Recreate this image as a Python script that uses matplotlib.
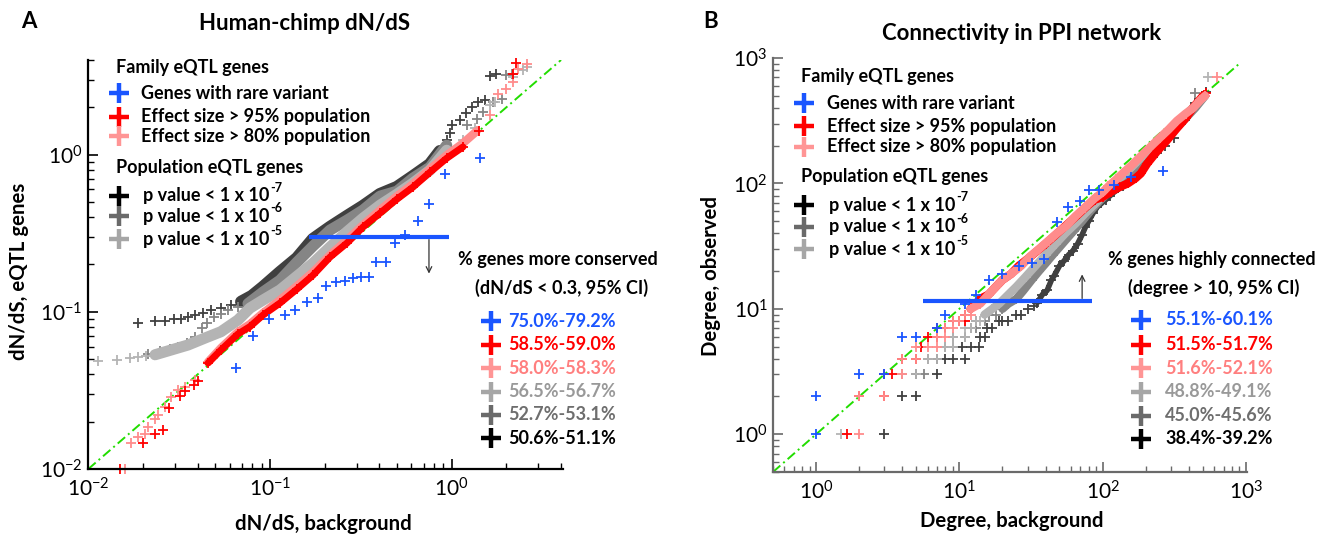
import numpy as np
import matplotlib
matplotlib.use('Agg')
import matplotlib.pyplot as plt
from matplotlib.lines import Line2D
from matplotlib.ticker import LogLocator, NullFormatter

# ---------------- panel A: human-chimp dN/dS (QQ) ----------------
a_blue_x = [0.065, 0.081, 0.099, 0.121, 0.138, 0.160, 0.183, 0.203, 0.232, 0.258, 0.286,
            0.316, 0.349, 0.385, 0.435, 0.487, 0.556, 0.652, 0.746, 0.918, 1.43]
a_blue_y = [0.044, 0.070, 0.090, 0.096, 0.102, 0.115, 0.122, 0.146, 0.155, 0.157, 0.165,
            0.166, 0.166, 0.206, 0.207, 0.273, 0.310, 0.380, 0.488, 0.753, 0.958]

a_red_lo_x = [0.0149, 0.0200, 0.0234, 0.0258, 0.0278, 0.0318, 0.0342, 0.0382, 0.0401]
a_red_lo_y = [0.0100, 0.0146, 0.0168, 0.0177, 0.0243, 0.0291, 0.0315, 0.0342, 0.0364]
a_red_band_x = [0.0456, 0.0537, 0.0666, 0.0776, 0.0915, 0.1135, 0.1408, 0.1725, 0.2139, 0.2652,
                0.3247, 0.4032, 0.500, 0.612, 0.759, 0.939, 1.154]
a_red_band_y = [0.0472, 0.0571, 0.0722, 0.0805, 0.0953, 0.1136, 0.1395, 0.1710, 0.2227, 0.2736,
                0.3456, 0.424, 0.521, 0.621, 0.772, 0.948, 1.119]
a_red_hi_x = [1.413, 2.18, 2.258]
a_red_hi_y = [1.419, 3.28, 3.85]

a_pink_lo_x = [0.0159, 0.0171, 0.0187, 0.0204, 0.0213, 0.0232, 0.0242, 0.0265, 0.0286, 0.0312, 0.0339, 0.0385]
a_pink_lo_y = [0.0100, 0.0146, 0.0159, 0.0168, 0.0186, 0.0207, 0.0220, 0.0248, 0.0288, 0.0317, 0.0332, 0.0368]
a_pink_band_x = [0.0456, 0.0537, 0.0666, 0.0776, 0.0915, 0.1135, 0.1408, 0.1725, 0.2139, 0.2652,
                 0.3247, 0.4032, 0.500, 0.612, 0.759, 0.939, 1.154, 1.373]
a_pink_band_y = [0.0479, 0.0588, 0.0743, 0.0835, 0.0981, 0.1187, 0.1458, 0.1786, 0.2292, 0.2856,
                 0.356, 0.443, 0.544, 0.649, 0.807, 0.991, 1.182, 1.409]
a_pink_hi_x = [1.626, 1.805, 2.0, 2.18, 2.326, 2.587]
a_pink_hi_y = [1.780, 2.447, 2.63, 2.90, 3.53, 3.79]

a_p5_lo_x = [0.0113, 0.0144, 0.0170, 0.0187, 0.0208]
a_p5_lo_y = [0.0486, 0.0490, 0.0507, 0.0516, 0.0524]
a_p5_band_x = [0.0233, 0.0285, 0.0354, 0.0439, 0.0537, 0.0666, 0.0776, 0.0915, 0.1135, 0.1408,
               0.1725, 0.2139, 0.2652, 0.3247, 0.4032, 0.500, 0.612, 0.759, 0.939]
a_p5_band_y = [0.0533, 0.0571, 0.0615, 0.0681, 0.0747, 0.0886, 0.1056, 0.1187, 0.1375, 0.1685,
               0.2039, 0.2580, 0.3227, 0.3937, 0.4766, 0.560, 0.658, 0.796, 1.066]
a_p5_hi_x = [1.154, 1.343, 1.626, 1.732, 2.175, 2.48, 2.587]
a_p5_hi_y = [1.235, 1.471, 2.06, 2.163, 3.13, 3.44, 3.61]

a_p6_lo_x = [0.0213, 0.0248, 0.0282, 0.0312, 0.0349, 0.0387, 0.0422, 0.0450, 0.0492, 0.0537,
             0.0587, 0.0666, 0.0757]
a_p6_lo_y = [0.0542, 0.0567, 0.0579, 0.0597, 0.0634, 0.0691, 0.0786, 0.0847, 0.0925, 0.0974,
             0.1025, 0.1072, 0.1128]
a_p6_band_x = [0.0757, 0.0915, 0.1135, 0.1408, 0.1725, 0.2139, 0.2652, 0.3247, 0.4032, 0.500,
               0.612, 0.759, 0.939]
a_p6_band_y = [0.1128, 0.1335, 0.1588, 0.2069, 0.2618, 0.3308, 0.3826, 0.443, 0.544, 0.585,
               0.708, 0.831, 1.148]
a_p6_hi_x = [1.209, 1.373, 1.493, 1.695, 1.884, 2.0, 2.139]
a_p6_hi_y = [1.538, 1.694, 1.867, 2.163, 2.272, 3.2, 3.28]

a_p7_lo_x = [0.0187, 0.0232, 0.0263, 0.0296, 0.0325, 0.0354, 0.0385, 0.0428, 0.0475, 0.0540,
             0.0612, 0.0695]
a_p7_lo_y = [0.0851, 0.0868, 0.0868, 0.0894, 0.0902, 0.0921, 0.0953, 0.0985, 0.1025, 0.1051,
             0.1103, 0.1157]
a_p7_band_x = [0.0695, 0.0795, 0.0915, 0.1135, 0.1408, 0.1725, 0.2139, 0.2652, 0.3247, 0.4032,
               0.500, 0.612, 0.759, 0.862]
a_p7_band_y = [0.1157, 0.1259, 0.1437, 0.1786, 0.2195, 0.290, 0.3456, 0.4057, 0.470, 0.560,
               0.621, 0.728, 0.868, 1.051]
a_p7_hi_x = [0.939, 0.979, 1.0, 1.111, 1.199, 1.288, 1.400, 1.525, 1.626, 1.753]
a_p7_hi_y = [1.235, 1.382, 1.538, 1.653, 1.851, 2.01, 2.163, 2.214, 3.16, 3.28]

a_pct = ['75.0%-79.2%', '58.5%-59.0%', '58.0%-58.3%', '56.5%-56.7%', '52.7%-53.1%', '50.6%-51.1%']

# ---------------- panel B: PPI degree (QQ) ----------------
b_blue_x = [1, 1, 2, 3, 4, 5, 7, 8, 11, 13, 16, 20, 26, 32, 39, 48, 57, 70, 80, 95, 120, 158, 265]
b_blue_y = [1, 2, 3, 3, 6, 6, 7, 9, 11, 13, 17, 19, 22, 23, 25, 49, 65, 72, 88, 88, 97, 112, 125]

b_red_lo_x = [1.64, 2, 3, 3, 3.4, 4, 5, 5.4, 6, 7, 7, 8, 9, 10, 11, 11]
b_red_lo_y = [1, 2, 2, 3, 3, 4, 4, 5, 6, 6, 7, 7, 8, 8, 8, 9]
b_red_band_x = [12, 13, 14, 16, 18, 20, 23, 26, 30, 35, 40, 46, 53, 60, 68, 78, 88, 100, 115,
                130, 150, 170, 185, 205, 240, 282, 330, 380, 433, 508]
b_red_band_y = [10, 11, 12, 13, 15, 17, 19, 22, 25, 29, 33, 38, 44, 50, 57, 66, 74, 78, 86,
                93, 100, 110, 120, 144, 180, 221, 275, 330, 408, 506]
b_red_hi_x = [527]
b_red_hi_y = [527]

b_pink_lo_x = [2, 2, 3, 4, 4, 5, 5, 6, 7, 7, 8, 8, 9, 9, 10, 11, 12]
b_pink_lo_y = [1, 2, 2, 3, 4, 4, 5, 5, 5, 6, 6, 7, 7, 8, 8, 9, 9]
b_pink_band_x = [12, 14, 16, 18, 20, 23, 27, 31, 36, 42, 48, 56, 65, 75, 88, 100, 110, 125, 140,
                 160, 185, 215, 250, 290, 330, 380, 430, 480, 520]
b_pink_band_y = [10, 11, 13, 15, 17, 19, 22, 26, 30, 35, 40, 46, 55, 64, 76, 85, 95, 108, 122,
                 140, 165, 195, 230, 270, 315, 360, 400, 460, 500]
b_pink_hi_x = [634]
b_pink_hi_y = [701]

b_p5_lo_x = [1.5, 4, 5, 6, 7, 8, 9, 9, 11, 11, 12, 13, 14]
b_p5_lo_y = [1, 3, 3, 4, 4, 5, 5, 6, 6, 7, 7, 8, 8]
b_p5_band_x = [15, 17, 19, 22, 25, 29, 34, 40, 47, 55, 65, 76, 90, 105, 120, 140, 165, 195, 230,
               270, 320, 380, 444, 500]
b_p5_band_y = [9, 10, 11, 13, 15, 18, 22, 27, 33, 40, 48, 58, 70, 84, 98, 117, 140, 170, 205,
               245, 295, 350, 420, 480]
b_p5_hi_x = [545]
b_p5_hi_y = [701]

b_p6_lo_x = [5.7, 6, 8, 9, 9, 11, 12, 13, 13, 15, 16, 18]
b_p6_lo_y = [3, 4, 5, 5, 6, 6, 7, 7, 8, 8, 9, 9]
b_p6_band_x = [20, 22, 25, 28, 32, 36, 40, 45, 50, 56, 63, 72, 82, 95, 110, 130, 160, 200, 240,
               300, 360, 444, 520]
b_p6_band_y = [10, 11, 12, 14, 17, 20, 23, 27, 31, 36, 42, 50, 60, 72, 85, 100, 125, 160, 195,
               250, 310, 400, 500]
b_p6_hi_x = [444]
b_p6_hi_y = [527]

b_p7_lo_x = [3, 4, 5, 5, 7, 7, 8, 9, 11, 10.5, 12, 13.7, 14, 15, 15.7, 17, 19, 20, 22, 25, 27, 30, 33]
b_p7_lo_y = [1, 2, 2, 3, 3, 4, 4, 4, 4, 5, 5, 5, 6, 6, 7, 7, 8, 8, 8, 9, 9, 10, 10.5]
b_p7_band_x = [35, 38, 41, 44, 46, 50, 54, 58, 62, 67, 72, 76, 80, 86, 92, 105, 120, 138, 160, 185, 208]
b_p7_band_y = [11.2, 13, 14, 17, 18.4, 22, 24.2, 27, 29, 33, 39, 45, 50, 58, 65, 74, 85, 95, 115, 135, 158]
b_p7_hi_x = [240, 275, 315, 374, 445, 527]
b_p7_hi_y = [175, 198, 232, 318, 436, 535]

b_pct = ['55.1%-60.1%', '51.5%-51.7%', '51.6%-52.1%', '48.8%-49.1%', '45.0%-45.6%', '38.4%-39.2%']

pvals = ['-7', '-6', '-5']

# colours
c_blue, c_red, c_pink = '#1a55ff', '#ff0000', '#ff8c8c'
c_p5, c_p6, c_p7 = '#b4b4b4', '#858585', '#404040'
leg_marks = [c_blue, c_red, '#ff9595', '#a6a6a6', '#6a6a6a', '#000000']
pct_colors = [c_blue, c_red, '#ff7f7f', '#999999', '#6e6e6e', '#000000']

plt.rcParams['font.family'] = ['Lato', 'DejaVu Sans']
plt.rcParams['mathtext.default'] = 'regular'

W, H = 1330, 538
fig = plt.figure(figsize=(W / 100, H / 100), dpi=100)
renderer = fig.canvas.get_renderer()
FS = 13


def fx(x):
    return x / W


def fy(y):
    return 1 - y / H


def series(ax, parts, color, lw=5, z=2):
    # parts: list of (xs, ys, is_band)
    for xs, ys, is_band in parts:
        if is_band:
            ax.plot(xs, ys, '-', color=color, lw=lw, zorder=z, solid_capstyle='round',
                    solid_joinstyle='round')
        ax.plot(xs, ys, '+', color=color, ms=7.5, mew=1.3, ls='none', zorder=z, clip_on=False)


def style_axes(ax, spine_color):
    ax.set_xscale('log')
    ax.set_yscale('log')
    for s in ['top', 'right']:
        ax.spines[s].set_visible(False)
    for s in ['left', 'bottom']:
        ax.spines[s].set_color(spine_color)
        ax.spines[s].set_linewidth(1.6)
    for axis in [ax.xaxis, ax.yaxis]:
        axis.set_major_locator(LogLocator(base=10, numticks=10))
        axis.set_minor_locator(LogLocator(base=10, subs=np.arange(2, 10), numticks=20))
        axis.set_minor_formatter(NullFormatter())
    ax.tick_params(which='major', direction='in', length=7, width=1.2, color=spine_color,
                   labelsize=15)
    ax.tick_params(which='minor', direction='in', length=4, width=1.0, color=spine_color)
    ax.tick_params(axis='x', which='major', pad=6)
    ax.tick_params(axis='y', which='major', pad=4)


def plus(x, y, c):
    fig.add_artist(Line2D([fx(x)], [fy(y)], marker='+', ms=15, mew=3.2, color=c,
                          transform=fig.transFigure))


def legend_block(xm, xt, ys_fam, ys_pop, head_x, head_fam_y, head_pop_y):
    fig.text(fx(head_x), fy(head_fam_y), 'Family eQTL genes', fontsize=FS, fontweight='bold', va='center')
    fam = ['Genes with rare variant', 'Effect size > 95% population', 'Effect size > 80% population']
    for lab, y, c in zip(fam, ys_fam, leg_marks[:3]):
        plus(xm, y, c)
        fig.text(fx(xt), fy(y), lab, fontsize=FS, fontweight='bold', va='center')
    fig.text(fx(head_x), fy(head_pop_y), 'Population eQTL genes', fontsize=FS, fontweight='bold', va='center')
    for p, y, c in zip(pvals, ys_pop, leg_marks[5:2:-1]):
        plus(xm, y, c)
        t = fig.text(fx(xt + 2), fy(y), 'p value < 1 x 10', fontsize=FS, fontweight='bold', va='center')
        bb = t.get_window_extent(renderer)
        fig.text(fx(bb.x1 + 0.5), fy(y - 8), p, fontsize=9, fontweight='bold', va='center')


def pct_block(head1, head2, h1, h2, xm, xt, ys, labels):
    fig.text(fx(h1[0]), fy(h1[1]), head1, fontsize=FS, fontweight='bold', va='center')
    fig.text(fx(h2[0]), fy(h2[1]), head2, fontsize=FS, fontweight='bold', va='center')
    for lab, y, mc, tc in zip(labels, ys, leg_marks, pct_colors):
        plus(xm, y, mc)
        fig.text(fx(xt), fy(y), lab, fontsize=FS, fontweight='bold', va='center', color=tc)


# ---------------- panel A ----------------
axA = fig.add_axes([0.0664, 0.1283, 0.3569, 0.7602])
style_axes(axA, 'black')
axA.set_xlim(0.01, 4.1)
axA.set_ylim(0.01, 4.0)
axA.plot([0.01, 4.0], [0.01, 4.0], color='#22dd00', lw=1.4, ls=(0, (5, 2, 1, 2)), zorder=1)
series(axA, [(a_p7_lo_x, a_p7_lo_y, False), (a_p7_band_x, a_p7_band_y, True), (a_p7_hi_x, a_p7_hi_y, False)], c_p7, lw=9)
series(axA, [(a_p6_lo_x, a_p6_lo_y, False), (a_p6_band_x, a_p6_band_y, True), (a_p6_hi_x, a_p6_hi_y, False)], c_p6, lw=8)
series(axA, [(a_p5_lo_x, a_p5_lo_y, False), (a_p5_band_x, a_p5_band_y, True), (a_p5_hi_x, a_p5_hi_y, False)], c_p5, lw=8)
series(axA, [(a_pink_lo_x, a_pink_lo_y, False), (a_pink_band_x, a_pink_band_y, True), (a_pink_hi_x, a_pink_hi_y, False)], c_pink, lw=6)
series(axA, [(a_red_lo_x, a_red_lo_y, False), (a_red_band_x, a_red_band_y, True), (a_red_hi_x, a_red_hi_y, False)], c_red, lw=5)
axA.plot(a_blue_x, a_blue_y, '+', color=c_blue, ms=7.5, mew=1.3, ls='none', zorder=4)
axA.plot([0.165, 0.97], [0.3, 0.3], color=c_blue, lw=3, zorder=5, solid_capstyle='butt')
axA.annotate('', xy=(0.75, 0.168), xytext=(0.75, 0.3),
             arrowprops=dict(arrowstyle='->', color='#333333', lw=0.9), zorder=5)

fig.text(fx(29), fy(21), 'A', fontsize=16, fontweight='bold', ha='center', va='center')
fig.text(fx(305), fy(23), 'Human-chimp dN/dS', fontsize=16, fontweight='bold', ha='center', va='center')
fig.text(fx(323), fy(524), 'dN/dS, background', fontsize=14.7, fontweight='bold', ha='center', va='center')
fig.text(fx(19), fy(271), 'dN/dS, eQTL genes', fontsize=14.7, fontweight='bold', ha='center', va='center',
         rotation=90)
legend_block(118.5, 141, [93.4, 116.8, 136.4], [195.8, 216.4, 239.4], 116, 67, 167.3)
pct_block('% genes more conserved', '(dN/dS < 0.3, 95% CI)', (458.5, 260), (475, 288),
          491, 508.5, [321.2, 344.6, 368.3, 391.6, 415, 438], a_pct)

# ---------------- panel B ----------------
axB = fig.add_axes([0.5812, 0.1227, 0.3564, 0.7695])
style_axes(axB, '#6a6a6a')
axB.set_xlim(0.5, 1020)
axB.set_ylim(0.5, 1000)
axB.plot([0.5, 900], [0.5, 900], color='#22dd00', lw=1.4, ls=(0, (5, 2, 1, 2)), zorder=1)
series(axB, [(b_p7_lo_x, b_p7_lo_y, False), (b_p7_band_x, b_p7_band_y, True), (b_p7_hi_x, b_p7_hi_y, False)], c_p7, lw=4)
series(axB, [(b_p6_lo_x, b_p6_lo_y, False), (b_p6_band_x, b_p6_band_y, True), (b_p6_hi_x, b_p6_hi_y, False)], c_p6, lw=6)
series(axB, [(b_p5_lo_x, b_p5_lo_y, False), (b_p5_band_x, b_p5_band_y, True), (b_p5_hi_x, b_p5_hi_y, False)], c_p5, lw=6)
series(axB, [(b_red_lo_x, b_red_lo_y, False), (b_red_band_x, b_red_band_y, True), (b_red_hi_x, b_red_hi_y, False)], c_red, lw=6)
series(axB, [(b_pink_lo_x, b_pink_lo_y, False), (b_pink_band_x, b_pink_band_y, True), (b_pink_hi_x, b_pink_hi_y, False)], c_pink, lw=6)
axB.plot(b_blue_x, b_blue_y, '+', color=c_blue, ms=7.5, mew=1.3, ls='none', zorder=4)
axB.plot([5.6, 85], [11.5, 11.5], color=c_blue, lw=3, zorder=5, solid_capstyle='butt')
axB.annotate('', xy=(72, 19.8), xytext=(72, 11.5),
             arrowprops=dict(arrowstyle='->', color='#333333', lw=0.9), zorder=5)

fig.text(fx(711), fy(21), 'B', fontsize=16, fontweight='bold', ha='center', va='center')
fig.text(fx(1022), fy(34), 'Connectivity in PPI network', fontsize=16, fontweight='bold', ha='center', va='center')
fig.text(fx(1012), fy(521), 'Degree, background', fontsize=14.7, fontweight='bold', ha='center', va='center')
fig.text(fx(711), fy(276), 'Degree, observed', fontsize=14.7, fontweight='bold', ha='center', va='center',
         rotation=90)
legend_block(803.5, 827, [103.1, 126.4, 146.7], [205.4, 226.7, 249.4], 801, 76.3, 176.9)
pct_block('% genes highly connected', '(degree > 10, 95% CI)', (1108, 259.4), (1128.5, 288),
          1140.5, 1165, [319.5, 344.6, 368.3, 391.6, 415.7, 439], b_pct)

fig.savefig('out.png', dpi=100)
